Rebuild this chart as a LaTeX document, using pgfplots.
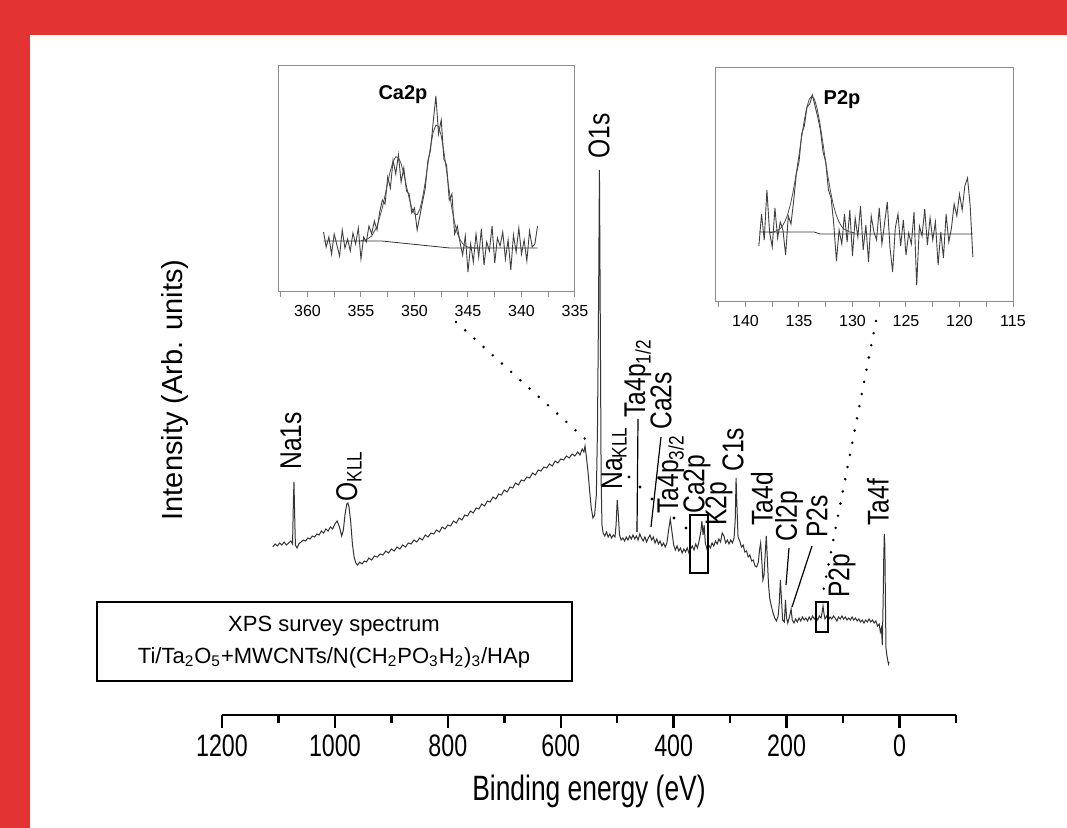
\documentclass[border=0pt]{standalone}
\usepackage{pgfplots}
\pgfplotsset{compat=1.18}
\usepackage{fontspec}
\setmainfont{Liberation Sans}
\newfontfamily\narrowfont[FakeStretch=0.75]{Liberation Sans}
\newfontfamily\labfont[FakeStretch=0.82]{Liberation Sans}
\definecolor{framered}{RGB}{227,52,52}
\definecolor{insetgray}{RGB}{140,140,140}

\pgfplotstableread{
x y
1110 168
1106 171
1102 169
1098 172
1094 170
1090 173
1086 170
1082 172
1078 174
1075 171
1073.5 215
1072.5 233
1071.5 205
1070 170
1067 167
1064 171
1060 173
1056 175
1052 174
1048 177
1044 176
1040 179
1036 178
1032 181
1028 180
1024 184
1020 182
1016 186
1012 184
1008 188
1004 186
1000 191
996 194
992 188
988 179
985 185
982 201
979 211
977 212
975 208
972 193
969 171
966 158
963 152
960 150
956 153
952 151
948 154
944 153
940 157
935 155
930 159
925 158
920 161
915 160
910 164
905 162
900 166
895 164
890 168
885 166
880 170
875 168
870 172
865 171
860 175
855 173
850 177
845 175
840 180
835 178
830 182
825 181
820 185
815 183
810 188
805 186
800 190
795 189
790 194
785 192
780 197
775 195
770 200
765 199
760 204
755 202
750 207
745 206
740 211
735 209
730 214
725 213
720 218
715 216
710 221
705 220
700 225
695 223
690 228
685 227
680 232
675 230
670 235
665 234
660 238
655 237
650 242
645 240
640 245
635 244
630 248
625 247
620 251
615 249
610 254
605 252
600 256
595 255
590 259
585 257
580 261
575 259
570 263
566 260
562 266
559 263
557 269
555 260
552 245
549 225
546 207
543 197
540 200
537 220
535 285
533 415
531.5 545
530 395
528.5 235
527 190
525 182
522 179
519 183
516 178
513 181
510 177
507 180
504 178
502 190
500 215
498 200
496 180
493 175
490 177
487 174
484 178
481 175
478 179
475 176
472 180
469 176
466 179
463 175
460 181
457 177
454 174
451 178
448 173
445 177
442 180
439 175
436 178
433 172
430 176
427 171
424 174
421 169
418 172
415 168
412 172
409 185
406 196
403 183
400 170
397 165
394 169
391 164
388 167
385 162
382 166
379 163
376 167
373 162
370 166
367 169
364 165
361 171
358 167
355 174
352 183
350 194
348 180
346 190
344 172
341 166
338 170
335 167
332 172
329 169
326 174
323 171
320 176
317 173
314 182
311 179
308 172
305 175
302 171
299 175
296 172
293 177
291 195
289.5 237
288 210
286 178
283 174
280 168
277 170
274 163
271 164
268 158
265 160
262 154
259 155
256 149
253 148
250 153
248 165
246 172
244 155
242 135
240 140
238 160
236 179
234 155
232 130
230 117
227 109
224 102
221 97
218 94
215 99
213 112
211 135
209 115
207 95
204 93
202 115
200 97
198 92
195 98
192 106
190 95
187 92
184 96
181 93
178 97
175 94
172 98
169 95
166 97
163 94
160 98
157 95
154 99
151 96
148 98
145 95
142 99
139 97
137 103
135.5 109
134 102
132 96
129 99
126 95
123 98
120 96
117 99
114 97
111 94
108 98
105 96
102 99
99 96
96 98
93 95
90 97
87 95
84 98
81 95
78 97
75 94
72 96
69 93
66 95
63 92
60 95
57 93
54 96
51 93
48 95
45 92
42 94
39 89
36 91
34 83
32 87
30.5 70
29 115
28 155
27 181
26 170
25 115
24 67
22.5 60
21 55
19.5 51
18.5 53
}\survey

\pgfplotstableread{
x y
358.50 60
358.25 45
358.00 55
357.75 38
357.50 58
357.25 47
357.00 36
356.75 62
356.50 44
356.25 53
356.00 41
355.75 59
355.50 48
355.25 64
355.00 33
354.75 55
354.50 50
354.25 66
354.00 58
353.75 71
353.50 62
353.25 80
353.00 92
352.75 88
352.50 115
352.25 104
352.00 132
351.75 118
351.50 137
351.25 110
351.00 124
350.75 101
350.50 98
350.25 79
350.00 84
349.75 62
349.50 76
349.25 90
349.00 103
348.75 131
348.50 142
348.25 170
348.00 196
347.75 158
347.50 172
347.25 133
347.00 127
346.75 92
346.50 98
346.25 58
346.00 66
345.75 50
345.50 37
345.25 56
345.00 20
344.75 48
344.50 30
344.25 58
344.00 35
343.75 63
343.50 27
343.25 50
343.00 41
342.75 66
342.50 29
342.25 54
342.00 46
341.75 60
341.50 33
341.25 52
341.00 22
340.75 57
340.50 40
340.25 64
340.00 38
339.75 52
339.50 31
339.25 61
339.00 45
338.75 48
338.50 66
}\capdata

\pgfplotstableread{
x y
355.00 51.3
354.50 52.3
354.00 55.9
353.50 65.5
353.00 84.2
352.75 96.5
352.50 109.4
352.25 121.4
352.00 130.5
351.75 135.2
351.50 134.4
351.25 128.4
351.00 118.3
350.75 106.0
350.50 93.9
350.25 84.0
350.00 78.1
349.75 77.4
349.50 82.7
349.25 93.7
349.00 109.4
348.75 127.7
348.50 145.7
348.25 159.7
348.00 166.8
347.75 165.6
347.50 156.2
347.25 140.3
347.00 120.8
346.75 100.9
346.50 83.3
346.25 69.3
346.00 59.1
345.75 52.4
345.50 48.4
345.25 46.1
345.00 44.9
344.50 44.1
344.00 44.0
}\capfit

\pgfplotstableread{
x y
358.5 51
353.06 51
346.7 44
338.5 44
}\capbg

\pgfplotstableread{
x y
138.75 56
138.50 88
138.25 62
138.00 112
137.75 70
137.50 55
137.25 94
137.00 64
136.75 80
136.50 72
136.25 47
136.00 86
135.75 78
135.50 101
135.25 128
135.00 140
134.75 168
134.50 176
134.25 195
134.00 198
133.75 207
133.50 196
133.25 185
133.00 172
132.75 150
132.50 140
132.25 112
132.00 104
131.75 78
131.50 41
131.25 72
131.00 58
130.75 88
130.50 60
130.25 92
130.00 46
129.75 84
129.50 65
129.25 96
129.00 52
128.75 77
128.50 40
128.25 86
128.00 70
127.75 62
127.50 94
127.25 58
127.00 79
126.75 100
126.50 55
126.25 30
126.00 74
125.75 88
125.50 56
125.25 82
125.00 47
124.75 69
124.50 58
124.25 90
124.00 17
123.75 76
123.50 66
123.25 93
123.00 57
122.75 84
122.50 62
122.25 80
122.00 37
121.75 70
121.50 44
121.25 88
121.00 60
120.75 74
120.50 98
120.25 86
120.00 108
119.75 92
119.50 116
119.25 124
119.00 96
118.75 45
}\pdata

\pgfplotstableread{
x y
137.80 69.2
137.30 70.1
136.80 73.0
136.55 76.0
136.30 80.9
136.05 87.9
135.80 97.6
135.55 110.3
135.30 125.8
135.05 143.3
134.80 161.6
134.55 178.9
134.30 193.2
134.05 202.7
133.80 206.0
133.55 202.7
133.30 193.2
133.05 178.9
132.80 161.6
132.55 143.3
132.30 125.8
132.05 110.3
131.80 97.6
131.55 87.9
131.30 80.9
131.05 76.0
130.80 73.0
130.30 70.1
129.80 69.2
}\pfit

\pgfplotstableread{
x y
138.75 70
133.6 70
133.0 68
118.75 68
}\pbg

\begin{document}
\begin{tikzpicture}[x=0.5pt,y=-0.5pt]
\fill[white] (0,0) rectangle (1067,828);
\fill[framered] (0,0) rectangle (1067,35);
\fill[framered] (0,0) rectangle (30,828);
\path[use as bounding box] (0,0) rectangle (1067,828);

% main survey axis
\begin{axis}[at={(111pt,-357.5pt)}, anchor=south west, scale only axis,
  width=367pt, height=325pt,
  xmin=-100, xmax=1200, ymin=0, ymax=650, x dir=reverse,
  hide y axis, axis x line*=bottom,
  axis line style={-, line width=1.2pt},
  xtick={0,200,...,1200}, minor xtick={-100,100,...,1100},
  tick align=outside, major tick length=6.5pt, minor tick length=4pt,
  tick style={black, line width=1.2pt},
  xticklabel style={font=\narrowfont\fontsize{15.5pt}{16pt}\selectfont},
  /pgf/number format/assume math mode=true,
  /pgf/number format/1000 sep={},
  clip=false]
\addplot[black!80, line width=0.5pt] table[x=x,y=y] {\survey};
\end{axis}

% Ca2p inset
\begin{axis}[at={(139.5pt,-146pt)}, anchor=south west, scale only axis,
  width=148pt, height=113.5pt,
  xmin=335, xmax=362.66, x dir=reverse, ymin=0, ymax=227,
  ytick=\empty, xtick={335,340,...,360}, minor xtick={337.5,342.5,...,362.5},
  xtick pos=left, tick align=outside, major tick length=2.5pt, minor tick length=2.5pt,
  axis line style={insetgray, line width=0.5pt},
  tick style={insetgray, line width=0.5pt},
  xticklabel style={font=\fontsize{8pt}{9pt}\selectfont, yshift=-0.5pt},
  /pgf/number format/assume math mode=true]
\addplot[black!75, line width=0.45pt] table[x=x,y=y] {\capdata};
\addplot[black!70, line width=0.4pt] table[x=x,y=y] {\capfit};
\addplot[black!80, line width=0.4pt] table[x=x,y=y] {\capbg};
\end{axis}

% P2p inset
\begin{axis}[at={(357.5pt,-151pt)}, anchor=south west, scale only axis,
  width=149pt, height=117pt,
  xmin=115, xmax=142.85, x dir=reverse, ymin=0, ymax=234,
  ytick=\empty, xtick={115,120,...,140}, minor xtick={117.5,122.5,...,142.5},
  xtick pos=left, tick align=outside, major tick length=2.5pt, minor tick length=2.5pt,
  axis line style={insetgray, line width=0.5pt},
  tick style={insetgray, line width=0.5pt},
  xticklabel style={font=\fontsize{8pt}{9pt}\selectfont, yshift=-0.5pt},
  /pgf/number format/assume math mode=true]
\addplot[black!75, line width=0.45pt] table[x=x,y=y] {\pdata};
\addplot[black!70, line width=0.4pt] table[x=x,y=y] {\pfit};
\addplot[black!80, line width=0.4pt] table[x=x,y=y] {\pbg};
\end{axis}

% inset titles
\node[font=\bfseries\fontsize{10pt}{11pt}\selectfont] at (403,95) {Ca2p};
\node[font=\bfseries\fontsize{10pt}{11pt}\selectfont] at (842,100) {P2p};

% axis titles
\node[rotate=90, font=\fontsize{14.5pt}{16pt}\selectfont] at (175,390) {Intensity (Arb. units)};
\node[font=\narrowfont\fontsize{17.6pt}{18pt}\selectfont] at (589,791) {Binding energy (eV)};

% peak labels
\tikzset{pl/.style={rotate=90, anchor=west, inner sep=0pt, font=\labfont\fontsize{15pt}{16pt}\selectfont}}
\node[pl] at (291,470) {Na1s};
\node[pl] at (349,502) {O\textsubscript{KLL}};
\node[pl] at (599,159) {O1s};
\node[pl] at (614,490) {Na\textsubscript{KLL}};
\node[pl] at (638,418) {Ta4p\textsubscript{1/2}};
\node[pl] at (661,430) {Ca2s};
\node[pl] at (671,514) {Ta4p\textsubscript{3/2}};
\node[pl] at (697,514) {Ca2p};
\node[pl] at (719,526) {K2p};
\node[pl] at (733,472) {C1s};
\node[pl] at (762,526) {Ta4d};
\node[pl] at (789,542) {Cl2p};
\node[pl] at (817,538) {P2s};
\node[pl] at (842,598) {P2p};
\node[pl] at (878,526) {Ta4f};

% leader lines
\draw[line width=0.6pt] (638,419) -- (637,532);
\draw[line width=0.6pt] (661,437) -- (651,527);
\draw[line width=0.6pt] (789,548) -- (786,585);
\draw[line width=0.6pt] (812,546) -- (792,607);
\foreach \p in {(629,477),(640,487),(652,499),(674,518),(686,528)} \fill \p circle (1.6);

% marker boxes
\draw[line width=1pt] (690,515) rectangle (708,573);
\draw[line width=1pt] (816,602) rectangle (828,632);

% dotted connectors
\draw[line width=1.4pt, line cap=round, dash pattern=on 0pt off 6.2pt] (456,322) -- (593,446);
\draw[line width=1.4pt, line cap=round, dash pattern=on 0pt off 6.2pt] (876,321) -- (822,598);

% sample box
\draw[line width=1pt] (97,602) rectangle (572,681);
\node[font=\fontsize{11pt}{12pt}\selectfont] at (334,626) {XPS survey spectrum};
\node[font=\fontsize{11pt}{12pt}\selectfont] at (334,658) {Ti/Ta\textsubscript{2}O\textsubscript{5}+MWCNTs/N(CH\textsubscript{2}PO\textsubscript{3}H\textsubscript{2})\textsubscript{3}/HAp};
\end{tikzpicture}
\end{document}
